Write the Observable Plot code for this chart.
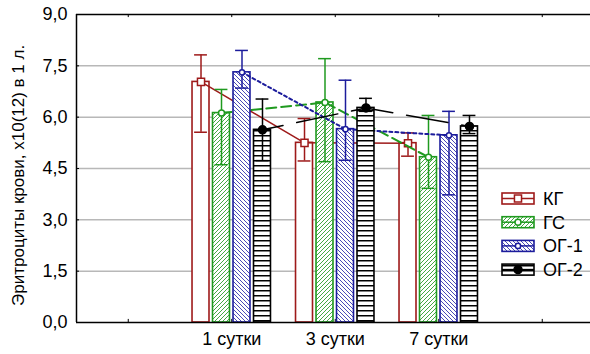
<!DOCTYPE html>
<html><head><meta charset="utf-8">
<script src="https://cdn.jsdelivr.net/npm/d3@7"></script>
<script src="https://cdn.jsdelivr.net/npm/@observablehq/plot@0.6"></script>
<style>body{margin:0;background:#fff} svg{display:block}</style>
</head><body><div id="chart"></div>
<script>
// ---- data ----
const categories = ["1 сутки", "3 сутки", "7 сутки"];
const series = ["КГ", "ГС", "ОГ-1", "ОГ-2"];
const meanKG  = [7.03, 5.25, 5.24];
const meanGS  = [6.12, 6.43, 4.83];
const meanOG1 = [7.31, 5.65, 5.47];
const meanOG2 = [5.63, 6.27, 5.73];
const hiKG  = [7.82, 5.96, 5.54];
const hiGS  = [6.81, 7.71, 6.05];
const hiOG1 = [7.95, 7.08, 6.17];
const hiOG2 = [6.53, 6.55, 6.05];
const loKG  = [5.56, 4.72, 4.86];
const loGS  = [4.61, 4.70, 3.92];
const loOG1 = [6.85, 4.74, 3.73];
const loOG2 = [4.73, 6.17, 5.52];
const yTicks = [0, 1.5, 3, 4.5, 6, 7.5, 9];
const yTitle = "Эритроциты крови, х10(12) в 1 л.";

// ---- styling ----
const FONT = "'Liberation Sans', Arial, sans-serif";
const means = [meanKG, meanGS, meanOG1, meanOG2];
const his = [hiKG, hiGS, hiOG1, hiOG2];
const los = [loKG, loGS, loOG1, loOG2];
const colors = ["#9e1a1a", "#1f9a1f", "#1c1c9c", "#000000"];
const fills = ["#ffffff", "url(#pGS)", "url(#pOG1)", "url(#pOG2)"];
const dashes = [null, "10,5", "3,3", "42,14"];
const dashOffsets = [0, 0, 0, 21];
const lineWidths = [1.5, 2, 2, 1.5];
const symbols = ["square", "circle", "circle", "circle"];
const symR = [4, 3, 2.6, 4];
const symFill = ["#fff", "#fff", "#fff", "#000"];
const step = 0.198, half = 0.082, cap = 0.062;

const rowsBySeries = series.map((s, si) => categories.map((c, ci) => {
  const xc = ci + 1 + (si - 1.5) * step;
  return {series: s, cat: c, xc, x1: xc - half, x2: xc + half,
          mean: means[si][ci], hi: his[si][ci], lo: los[si][ci]};
}));

const marks = [
  Plot.ruleY([1.5, 3, 4.5, 6, 7.5], {stroke: "#b8b8b8", strokeWidth: 1.5}),
  Plot.ruleY([9], {stroke: "#000", strokeWidth: 1.5}),
  Plot.ruleY(yTicks, {x1: -0.5, x2: -0.5 + 3 / 103.5, stroke: "#000"}),
  Plot.ruleX([0, 1, 2, 3, 4], {y1: 0, y2: 0.09, stroke: "#000"}),
  Plot.ruleX([0, 1, 2, 3, 4], {y1: 9, y2: 8.91, stroke: "#000"}),
];
rowsBySeries.forEach((rows, si) => {
  const col = colors[si];
  marks.push(
    Plot.rectY(rows, {x1: "x1", x2: "x2", y1: 0, y2: "mean", fill: fills[si], stroke: col, strokeWidth: 1.6}),
    Plot.ruleX(rows, {x: "xc", y1: "lo", y2: "hi", stroke: col, strokeWidth: 1.5}),
    Plot.ruleY(rows, {y: "hi", x1: d => d.xc - cap, x2: d => d.xc + cap, stroke: col, strokeWidth: 1.5}),
    Plot.ruleY(rows, {y: "lo", x1: d => d.xc - cap, x2: d => d.xc + cap, stroke: col, strokeWidth: 1.5}),
    Plot.line(rows, {x: "xc", y: "mean", stroke: col, strokeWidth: lineWidths[si],
      strokeDasharray: dashes[si] || undefined, strokeDashoffset: dashOffsets[si]}),
    Plot.dot(rows, {x: "xc", y: "mean", symbol: symbols[si], r: symR[si], fill: symFill[si], stroke: col, strokeWidth: 1.5})
  );
});
marks.push(
  Plot.ruleY([0], {stroke: "#000", strokeWidth: 1.5}),
  Plot.ruleX([-0.5], {y1: 0, y2: 9, stroke: "#000", strokeWidth: 1.5}),
  Plot.axisY({ticks: yTicks, tickFormat: d => d.toFixed(1).replace(".", ","), tickSize: 0, tickPadding: 9,
    label: null, fontSize: 18, fill: "#000"}),
  Plot.axisX({ticks: [1, 2, 3], tickFormat: i => categories[i - 1], tickSize: 0, tickPadding: 10,
    label: null, fontSize: 18, fill: "#000"}),
  Plot.text([yTitle], {x: () => -0.5, y: () => 4.3, textAnchor: "middle", dx: -58, rotate: -90, fontSize: 17, fill: "#000"})
);

const chart = Plot.plot({
  width: 590, height: 354,
  marginLeft: 76, marginTop: 14, marginBottom: 32, marginRight: 0,
  style: {fontFamily: FONT, fontSize: "18px", color: "#000", background: "#fff"},
  x: {domain: [-0.5, 4.5], range: [76, 593.5]},
  y: {domain: [0, 9]},
  marks
});

const svg = d3.select(chart);
svg.insert("defs", ":first-child").html(`
  <pattern id="pGS" width="4" height="4" patternUnits="userSpaceOnUse">
    <rect width="4" height="4" fill="#fff"/>
    <path d="M-1,1 l2,-2 M0,4 l4,-4 M3,5 l2,-2" stroke="#44a844" stroke-width="1"/>
  </pattern>
  <pattern id="pOG1" width="4" height="4" patternUnits="userSpaceOnUse">
    <rect width="4" height="4" fill="#fff"/>
    <path d="M-1,3 l2,2 M0,0 l4,4 M3,-1 l2,2" stroke="#4a4ab8" stroke-width="1"/>
  </pattern>
  <pattern id="pOG2" width="8" height="5" patternUnits="userSpaceOnUse">
    <rect width="8" height="5" fill="#fff"/>
    <path d="M0,0.75 h8" stroke="#000" stroke-width="1.5"/>
  </pattern>`);

// legend
const lg = svg.append("g").attr("font-family", FONT).attr("font-size", 18).attr("text-anchor", "start");
series.forEach((s, si) => {
  const y0 = 193 + si * 23.7, h = 11, x0 = 502, w = 32, cy = y0 + h / 2;
  lg.append("rect").attr("x", x0).attr("y", y0).attr("width", w).attr("height", h)
    .attr("fill", fills[si]).attr("stroke", colors[si]).attr("stroke-width", 1.6);
  lg.append("line").attr("x1", x0).attr("x2", x0 + w).attr("y1", cy).attr("y2", cy)
    .attr("stroke", colors[si]).attr("stroke-width", 1.5);
  const sym = d3.symbol(symbols[si] === "square" ? d3.symbolSquare : d3.symbolCircle, symR[si] * symR[si] * Math.PI);
  lg.append("path").attr("d", sym()).attr("transform", `translate(${x0 + w / 2},${cy})`)
    .attr("fill", symFill[si]).attr("stroke", colors[si]).attr("stroke-width", 1.5);
  lg.append("text").attr("x", 543).attr("y", cy).attr("dy", "0.36em")
    .attr("text-anchor", "start").attr("fill", "#000").style("font-size", "18px").text(s);
});

document.getElementById("chart").append(chart);
</script>
</body></html>
